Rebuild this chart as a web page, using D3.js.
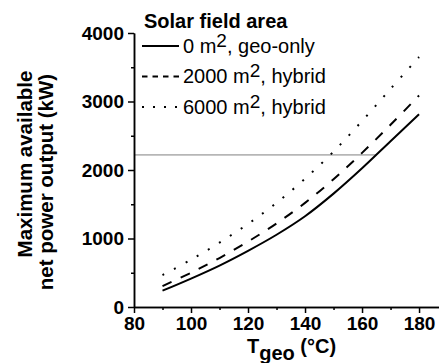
<!DOCTYPE html>
<html>
<head>
<meta charset="utf-8">
<script src="https://cdn.jsdelivr.net/npm/d3@7"></script>
<style>
  html, body { margin: 0; padding: 0; background: #fff; }
  svg { display: block; font-family: "Liberation Sans", Arial, sans-serif; }
</style>
</head>
<body>
<svg id="chart" width="439" height="363"></svg>
<script>
// Data
const temps = [90, 100, 110, 120, 130, 140, 150, 160, 170, 180];
const geoOnly = [238, 415, 605, 820, 1055, 1325, 1655, 2025, 2420, 2815];
const hybrid2000 = [306, 500, 715, 955, 1220, 1520, 1865, 2250, 2660, 3088];
const hybrid6000 = [466, 690, 940, 1213, 1520, 1873, 2269, 2715, 3185, 3650];
const refLevel = 2220;

const xMajorTicks = [80, 100, 120, 140, 160, 180];
const xMinorTicks = [90, 110, 130, 150, 170];
const yMajorTicks = [0, 1000, 2000, 3000, 4000];
const yMinorTicks = [500, 1500, 2500, 3500];

const seriesNames = ["0 m", "2000 m", "6000 m"];
const seriesTails = [", geo-only", ", hybrid", ", hybrid"];

// Layout
const margin = { top: 33, left: 134 };
const innerW = 305;
const innerH = 274;

const svg = d3.select("#chart");
const g = svg.append("g")
    .attr("transform", `translate(${margin.left},${margin.top})`);

// Scales
const x = d3.scaleLinear().domain([80, 187]).range([0, innerW]);
const y = d3.scaleLinear().domain([0, 4000]).range([innerH, 0]);

const series = [
    { values: geoOnly, dash: null, legendDash: null },
    { values: hybrid2000, dash: "10,10", legendDash: "5.5,5" },
    { values: hybrid6000, dash: "2,11", legendDash: "2,9" }
];

// Reference line, ends where the geo-only curve reaches it
let refT = temps[temps.length - 1];
for (let i = 1; i < temps.length; i++) {
    if (geoOnly[i] >= refLevel) {
        const t = (refLevel - geoOnly[i - 1]) / (geoOnly[i] - geoOnly[i - 1]);
        refT = temps[i - 1] + t * (temps[i] - temps[i - 1]);
        break;
    }
}
g.append("line")
    .attr("x1", x(80))
    .attr("x2", x(refT))
    .attr("y1", y(refLevel))
    .attr("y2", y(refLevel))
    .attr("stroke", "#808080")
    .attr("stroke-width", 1);

// Curves
const line = d3.line()
    .x(d => x(d[0]))
    .y(d => y(d[1]))
    .curve(d3.curveCatmullRom);

series.forEach(s => {
    g.append("path")
        .datum(temps.map((t, i) => [t, s.values[i]]))
        .attr("fill", "none")
        .attr("stroke", "#000")
        .attr("stroke-width", 2)
        .attr("stroke-dasharray", s.dash)
        .attr("d", line);
});

// Axes
const tickFont = g => g.selectAll("text")
    .style("font-size", "19px")
    .style("font-weight", "bold")
    .attr("fill", "#000");

const axisStyle = g => {
    g.select(".domain").attr("stroke-width", 1.5);
    g.selectAll(".tick line").attr("stroke-width", 1.5);
};

g.append("g")
    .attr("transform", `translate(0,${innerH})`)
    .call(d3.axisBottom(x).tickValues(xMinorTicks).tickSize(3).tickFormat("").tickSizeOuter(0))
    .call(axisStyle);

g.append("g")
    .attr("transform", `translate(0,${innerH})`)
    .call(d3.axisBottom(x).tickValues(xMajorTicks).tickSize(6).tickPadding(4)
        .tickFormat(d3.format("d")).tickSizeOuter(0))
    .call(axisStyle)
    .call(tickFont);

g.append("g")
    .call(d3.axisLeft(y).tickValues(yMinorTicks).tickSize(3).tickFormat("").tickSizeOuter(0))
    .call(axisStyle);

g.append("g")
    .call(d3.axisLeft(y).tickValues(yMajorTicks).tickSize(6).tickPadding(4)
        .tickFormat(d3.format("d")).tickSizeOuter(0))
    .call(axisStyle)
    .call(tickFont);

// Axis titles
const xTitle = svg.append("text")
    .attr("x", 247)
    .attr("y", 353)
    .style("font-size", "20px")
    .style("font-weight", "bold");
xTitle.append("tspan").text("T");
xTitle.append("tspan").attr("dy", 7).text("geo");
xTitle.append("tspan").attr("dy", -7).text(" (°C)");

svg.append("text")
    .attr("transform", "translate(32,164) rotate(-90)")
    .attr("text-anchor", "middle")
    .style("font-size", "20.5px")
    .style("font-weight", "bold")
    .text("Maximum available");

svg.append("text")
    .attr("transform", "translate(53,182) rotate(-90)")
    .attr("text-anchor", "middle")
    .style("font-size", "20.5px")
    .style("font-weight", "bold")
    .text("net power output (kW)");

// Legend
const legend = svg.append("g").attr("transform", "translate(142,0)");

legend.append("text")
    .attr("x", 2)
    .attr("y", 27.5)
    .style("font-size", "20px")
    .style("font-weight", "bold")
    .text("Solar field area");

series.forEach((s, i) => {
    const rowY = 46 + i * 30.5;
    legend.append("line")
        .attr("x1", 0)
        .attr("x2", 37)
        .attr("y1", rowY)
        .attr("y2", rowY)
        .attr("stroke", "#000")
        .attr("stroke-width", 1.8)
        .attr("stroke-dasharray", s.legendDash);

    const t = legend.append("text")
        .attr("x", 41)
        .attr("y", rowY + 6.5)
        .style("font-size", "20px");
    t.append("tspan").text(seriesNames[i]);
    t.append("tspan").attr("dy", -6).style("font-size", "19px").text("2");
    t.append("tspan").attr("dy", 6).text(seriesTails[i]);
});
</script>
</body>
</html>
